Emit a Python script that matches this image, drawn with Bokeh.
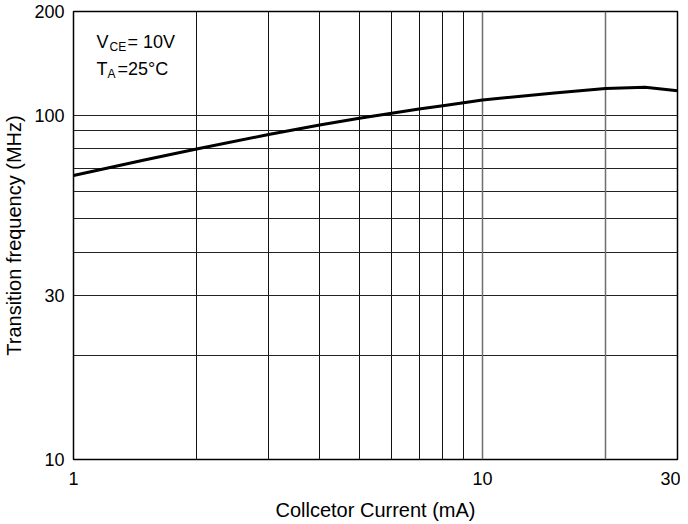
from bokeh.plotting import figure
from bokeh.models import FixedTicker, Grid, Label, Range1d
from bokeh.embed import file_html
from bokeh.resources import INLINE

# Data
collector_current_ma = [1, 1.5, 2, 3, 4, 5, 6, 7, 8, 9, 10, 15, 20, 25, 30]
transition_freq_mhz = [66.8, 74.2, 79.7, 87.9, 93.6, 97.9, 101.3, 104.2, 106.5, 108.6, 110.6, 116.0, 119.6, 120.5, 117.7]

x_tick_values = [1, 10, 30]
y_tick_values = [10, 30, 100, 200]
x_grid_dark = [2, 3, 4, 5, 6, 7, 8, 9]
x_grid_gray = [10, 20]
y_grid_values = [20, 30, 40, 50, 60, 70, 80, 90, 100]

FONT = "Liberation Sans"

p = figure(
    x_axis_type="log", y_axis_type="log",
    x_range=Range1d(1, 30), y_range=Range1d(10, 200),
    frame_width=604, frame_height=448,
    min_border_left=65, min_border_right=3, min_border_top=11, min_border_bottom=55,
    output_backend="svg", toolbar_location=None,
    background_fill_color="white", border_fill_color="white",
)
p.outline_line_color = "black"
p.outline_line_width = 1.5

# Axes
for ax in (p.xaxis, p.yaxis):
    ax.axis_line_color = None
    ax.major_tick_line_color = None
    ax.minor_tick_line_color = None
    ax.major_tick_out = 0
    ax.major_tick_in = 0
    ax.minor_tick_out = 0
    ax.major_label_text_font = FONT
    ax.major_label_text_font_size = "18px"
    ax.major_label_text_color = "black"
    ax.axis_label_text_font = FONT
    ax.axis_label_text_font_size = "20px"
    ax.axis_label_text_font_style = "normal"
    ax.axis_label_text_color = "black"

p.xaxis.ticker = FixedTicker(ticks=x_tick_values)
p.yaxis.ticker = FixedTicker(ticks=y_tick_values)
p.xaxis.major_label_overrides = {v: str(v) for v in x_tick_values}
p.yaxis.major_label_overrides = {v: str(v) for v in y_tick_values}
p.xaxis.major_label_standoff = 12
p.yaxis.major_label_standoff = 9
p.xaxis.axis_label = "Collcetor Current (mA)"
p.yaxis.axis_label = "Transition frequency (MHz)"
p.xaxis.axis_label_standoff = 11
p.yaxis.axis_label_standoff = 6

# Grids
p.xgrid.ticker = FixedTicker(ticks=x_grid_dark)
p.xgrid.grid_line_color = "#111111"
p.xgrid.grid_line_width = 1
p.ygrid.ticker = FixedTicker(ticks=y_grid_values)
p.ygrid.grid_line_color = "#222222"
p.ygrid.grid_line_width = 1
g2 = Grid(dimension=0, ticker=FixedTicker(ticks=x_grid_gray),
          grid_line_color="#6e6e6e", grid_line_width=1.5)
p.add_layout(g2)

# Curve
p.line(collector_current_ma, transition_freq_mhz, line_color="black", line_width=3,
       line_join="round")

# Annotation
def lab(x, y, t, size):
    p.add_layout(Label(x=x, y=y, text=t, text_font=FONT, text_font_size=size,
                       text_color="black", text_baseline="alphabetic", text_align="left"))

lab(1.138, 163.5, "V", "18px")
lab(1.225, 158.2, "CE", "12px")
lab(1.355, 163.5, "= 10V", "18px")
lab(1.138, 136.6, "T", "18px")
lab(1.211, 132.1, "A", "12px")
lab(1.281, 136.6, "=25°C", "18px")

open("out.html", "w").write(file_html(p, INLINE))
